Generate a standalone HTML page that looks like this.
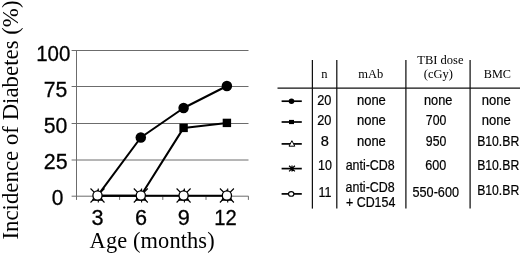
<!DOCTYPE html>
<html><head><meta charset="utf-8"><title>Incidence of Diabetes</title>
<style>html,body{margin:0;padding:0;background:#fff;overflow:hidden}svg{display:block}</style></head>
<body>
<svg width="520" height="254" viewBox="0 0 520 254">
<rect width="520" height="254" fill="#fff"/>
<g stroke="#6c6c6c" stroke-width="1" fill="none">
<line x1="71.6" y1="50.5" x2="248.5" y2="50.5"/>
<line x1="71.6" y1="86.5" x2="248.5" y2="86.5"/>
<line x1="71.6" y1="123.5" x2="248.5" y2="123.5"/>
<line x1="71.6" y1="160.0" x2="248.5" y2="160.0"/>
<line x1="71.6" y1="196.2" x2="248.5" y2="196.2"/>
<line x1="76.5" y1="50" x2="76.5" y2="199.9"/>
<line x1="119.6" y1="196.2" x2="119.6" y2="199.9"/>
<line x1="162.8" y1="196.2" x2="162.8" y2="199.9"/>
<line x1="206.0" y1="196.2" x2="206.0" y2="199.9"/>
<line x1="248.4" y1="196.2" x2="248.4" y2="199.9"/>
</g>
<g stroke="#000" stroke-width="2.05" fill="none" stroke-linejoin="round">
<polyline points="97.5,195.79999999999998 140.8,137.5 183.6,108.0 226.9,86.0"/>
<polyline points="97.5,195.79999999999998 140.8,195.79999999999998 183.6,127.9 226.9,122.9"/>
<polyline points="97.5,195.79999999999998 140.8,195.79999999999998 183.6,195.79999999999998 226.9,195.79999999999998" stroke-width="2"/>
</g>
<circle cx="140.8" cy="137.5" r="5.25" fill="#000"/>
<circle cx="183.6" cy="108.0" r="5.25" fill="#000"/>
<circle cx="226.9" cy="86.0" r="5.25" fill="#000"/>
<rect x="179.4" y="123.7" width="8.4" height="8.4" fill="#000"/>
<rect x="222.70000000000002" y="118.7" width="8.4" height="8.4" fill="#000"/>
<g stroke="#000" stroke-width="1.1" fill="none">
<path d="M92.9,199.9 L102.1,199.9 L97.5,190.9 Z" fill="#fff" stroke-width="1.5"/>
<path d="M90.5,188.5 L104.5,202.5 M104.5,188.5 L90.5,202.5 M98.3,188.5 L98.3,202.5"/>
<circle cx="97.5" cy="195.5" r="4.6" fill="#fff" stroke-width="1.3"/>
</g>
<g stroke="#000" stroke-width="1.1" fill="none">
<path d="M136.20000000000002,199.9 L145.4,199.9 L140.8,190.9 Z" fill="#fff" stroke-width="1.5"/>
<path d="M133.8,188.5 L147.8,202.5 M147.8,188.5 L133.8,202.5 M141.60000000000002,188.5 L141.60000000000002,202.5"/>
<circle cx="140.8" cy="195.5" r="4.6" fill="#fff" stroke-width="1.3"/>
</g>
<g stroke="#000" stroke-width="1.1" fill="none">
<path d="M179.0,199.9 L188.2,199.9 L183.6,190.9 Z" fill="#fff" stroke-width="1.5"/>
<path d="M176.6,188.5 L190.6,202.5 M190.6,188.5 L176.6,202.5 M184.4,188.5 L184.4,202.5"/>
<circle cx="183.6" cy="195.5" r="4.6" fill="#fff" stroke-width="1.3"/>
</g>
<g stroke="#000" stroke-width="1.1" fill="none">
<path d="M222.3,199.9 L231.5,199.9 L226.9,190.9 Z" fill="#fff" stroke-width="1.5"/>
<path d="M219.9,188.5 L233.9,202.5 M233.9,188.5 L219.9,202.5 M227.70000000000002,188.5 L227.70000000000002,202.5"/>
<circle cx="226.9" cy="195.5" r="4.6" fill="#fff" stroke-width="1.3"/>
</g>
<g font-family="'Liberation Sans', sans-serif" fill="#000" stroke="#000" stroke-width="0.3">
<text transform="translate(36.17,60.6) scale(0.9294,1)" font-size="22">100</text>
<text transform="translate(43.80,96.9) scale(0.9618,1)" font-size="22">75</text>
<text transform="translate(43.74,133.0) scale(0.9644,1)" font-size="22">50</text>
<text transform="translate(43.73,169.3) scale(0.9733,1)" font-size="22">25</text>
<text transform="translate(51.79,205.3) scale(0.9524,1)" font-size="22">0</text>
<text transform="translate(91.41,225.4) scale(0.9854,1)" font-size="22">3</text>
<text transform="translate(135.11,225.4) scale(0.9854,1)" font-size="22">6</text>
<text transform="translate(177.71,225.4) scale(0.9854,1)" font-size="22">9</text>
<text transform="translate(214.20,225.4) scale(0.9149,1)" font-size="22">12</text>
</g>
<g font-family="'Liberation Serif', serif" font-size="22.4" fill="#000">
<text x="89.6" y="247.5" letter-spacing="0.12">Age (months)</text>
<text transform="translate(18.0,239.6) rotate(-90)" font-size="22.85">Incidence of Diabetes (%)</text>
</g>
<g stroke="#111" stroke-width="1.25" fill="none">
<line x1="277.5" y1="88.2" x2="520" y2="88.2"/>
<line x1="312.4" y1="60" x2="312.4" y2="208.6"/>
<line x1="336.8" y1="60" x2="336.8" y2="208.6"/>
<line x1="405.9" y1="60" x2="405.9" y2="208.6"/>
<line x1="470.1" y1="60" x2="470.1" y2="208.6"/>
</g>
<g font-family="'Liberation Serif', serif" font-size="12.5" fill="#000">
<text x="324.3" y="78.0" text-anchor="middle">n</text>
<text x="370.7" y="78.0" text-anchor="middle">mAb</text>
<text x="440.4" y="63.6" text-anchor="middle">TBI dose</text>
<text x="438.3" y="78.0" text-anchor="middle">(cGy)</text>
<text transform="translate(497.4,78.1) scale(0.98,1)" text-anchor="middle">BMC</text>
</g>
<g font-family="'Liberation Sans', sans-serif" fill="#000" stroke="#000" stroke-width="0.22">
<text transform="translate(317.23,105.3) scale(0.8881,1)" font-size="14.4">20</text>
<text transform="translate(317.23,125.0) scale(0.8881,1)" font-size="14.4">20</text>
<text transform="translate(320.84,146.2) scale(1.0154,1)" font-size="14.4">8</text>
<text transform="translate(318.03,170.2) scale(0.8690,1)" font-size="14.4">10</text>
<text transform="translate(318.43,197.1) scale(0.8679,1)" font-size="14.4">11</text>
<text transform="translate(356.89,105.3) scale(0.9058,1)" font-size="14.4">none</text>
<text transform="translate(356.89,125.0) scale(0.9058,1)" font-size="14.4">none</text>
<text transform="translate(356.89,146.2) scale(0.9058,1)" font-size="14.4">none</text>
<text transform="translate(345.67,170.2) scale(0.8631,1)" font-size="14.4">anti-CD8</text>
<text transform="translate(345.57,191.6) scale(0.8649,1)" font-size="14.4">anti-CD8</text>
<text transform="translate(345.95,206.7) scale(0.8643,1)" font-size="14.4">+ CD154</text>
<text transform="translate(423.91,105.3) scale(0.8893,1)" font-size="14.4">none</text>
<text transform="translate(425.86,125.2) scale(0.8527,1)" font-size="14.4">700</text>
<text transform="translate(425.86,146.2) scale(0.8527,1)" font-size="14.4">950</text>
<text transform="translate(425.34,170.2) scale(0.8747,1)" font-size="14.4">600</text>
<text transform="translate(412.54,196.6) scale(0.8796,1)" font-size="14.4">550-600</text>
<text transform="translate(481.79,105.3) scale(0.9091,1)" font-size="14.4">none</text>
<text transform="translate(481.79,125.2) scale(0.9091,1)" font-size="14.4">none</text>
<text transform="translate(477.14,146.2) scale(0.8484,1)" font-size="14.4">B10.BR</text>
<text transform="translate(477.14,169.7) scale(0.8484,1)" font-size="14.4">B10.BR</text>
<text transform="translate(477.14,194.8) scale(0.8484,1)" font-size="14.4">B10.BR</text>
</g>
<g stroke="#000" stroke-width="1.7" fill="none">
<line x1="281.6" y1="101.2" x2="301.8" y2="101.2"/>
<line x1="281.6" y1="122.0" x2="301.8" y2="122.0"/>
<line x1="281.6" y1="143.9" x2="301.8" y2="143.9"/>
<line x1="281.6" y1="168.6" x2="301.8" y2="168.6"/>
<line x1="281.6" y1="193.9" x2="301.8" y2="193.9"/>
</g>
<circle cx="291.5" cy="101.2" r="2.8" fill="#000"/>
<rect x="289.0" y="119.9" width="5" height="4.2" fill="#000"/>
<path d="M289.0,146.20000000000002 L294.8,146.20000000000002 L291.9,140.70000000000002 Z" fill="#fff" stroke="#000" stroke-width="1"/>
<path d="M289.1,165.79999999999998 L294.9,171.4 M294.9,165.79999999999998 L289.1,171.4 M292.0,165.6 L292.0,171.6" stroke="#000" stroke-width="1.25" fill="none"/>
<ellipse cx="291.2" cy="193.9" rx="2.7" ry="2.3" fill="#fff" stroke="#000" stroke-width="1.1"/>
</svg>
</body></html>
